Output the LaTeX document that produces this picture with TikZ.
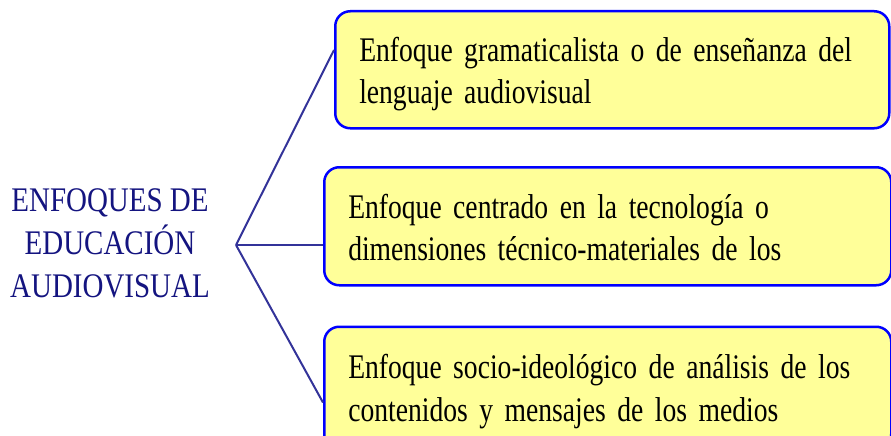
\documentclass[tikz,border=0pt]{standalone}
\usepackage{fontspec}
\setmainfont{Liberation Serif}[FakeStretch=0.84]
\newfontfamily\cajafont{Liberation Serif}[FakeStretch=0.80]
\usepackage{tikz}
\usetikzlibrary{positioning,calc}

\definecolor{boxfill}{RGB}{255,255,153}
\definecolor{boxline}{RGB}{0,0,255}
\definecolor{branchline}{RGB}{51,51,153}
\definecolor{titlenavy}{RGB}{20,20,128}

\tikzset{
  enfoque/.style={draw=boxline, fill=boxfill, line width=2.5pt, rounded corners=15pt,
    anchor=north west, inner xsep=24pt, inner ysep=0pt, align=left,
    font=\cajafont\fontsize{34.5}{42.5}\selectfont},
  titulo/.style={align=center, text=titlenavy, inner sep=0pt,
    font=\fontsize{34.5}{43}\selectfont},
  rama/.style={draw=branchline, line width=2pt},
}

\begin{document}
\begin{tikzpicture}[x=1pt, y=-1pt]
        \useasboundingbox (0,0) rectangle (891,436);
        \node [titulo] (t) at (110,243) {ENFOQUES DE\\EDUCACIÓN\\AUDIOVISUAL};
        \coordinate (r) at (236,245);
        \node [enfoque, text width=506pt, text height=50pt, text depth=67pt] (b1) at (334,10)
          {Enfoque gramaticalista o de enseñanza del\\lenguaje audiovisual};
        \node [enfoque, text width=519pt, text height=51pt, text depth=67pt] (b2) at (323,166)
          {Enfoque centrado en la tecnología o\\dimensiones técnico-materiales de los};
        \node [enfoque, text width=519pt, text height=52pt, text depth=70pt,
          below=39pt of b2.south west, anchor=north west] (b3)
          {Enfoque socio-ideológico de análisis de los\\contenidos y mensajes de los medios};
        \draw [rama] (r) -- ($(b1.north west)+(0,40)$);
        \draw [rama] (r) -- (r -| b2.west);
        \draw [rama] (r) -- ($(b3.north west)+(0,77)$);
      \end{tikzpicture}
\end{document}
